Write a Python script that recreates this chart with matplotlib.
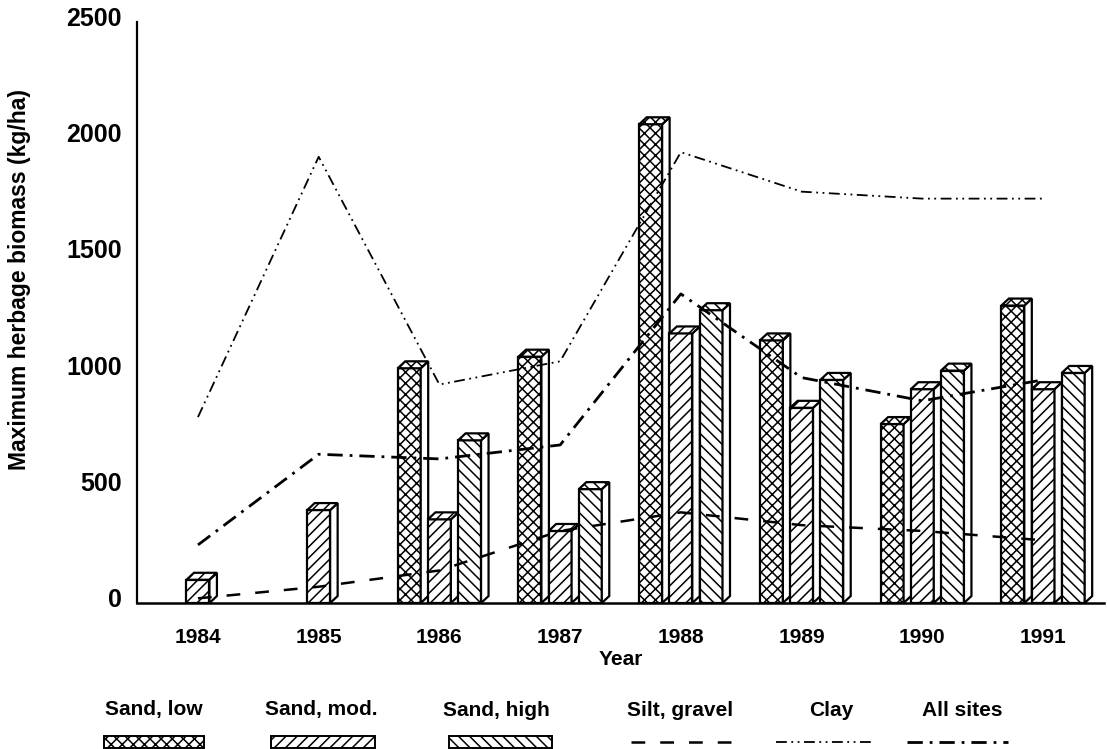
import matplotlib
matplotlib.use("Agg")
import matplotlib.pyplot as plt
import matplotlib.transforms as mtransforms
from matplotlib.patches import Polygon, Rectangle
from matplotlib.lines import Line2D
import numpy as np

# ---- data (kg/ha) ----
years = [1984, 1985, 1986, 1987, 1988, 1989, 1990, 1991]
sand_low = [np.nan, np.nan, 1010, 1060, 2060, 1130, 770, 1280]
sand_mod = [100, 400, 360, 310, 1160, 840, 920, 920]
sand_high = [np.nan, np.nan, 700, 490, 1260, 960, 1000, 990]
silt_gravel = [20, 70, 140, 310, 390, 335, 310, 270]
clay = [800, 1920, 940, 1040, 1940, 1770, 1740, 1740]
all_sites = [250, 640, 620, 680, 1330, 970, 870, 960]

bar_series = [("Sand, low", sand_low, "xxx", -0.25),
              ("Sand, mod.", sand_mod, "///", 0.0),
              ("Sand, high", sand_high, "\\\\\\", 0.25)]

FONT = "Liberation Sans"
plt.rcParams["font.family"] = [FONT, "DejaVu Sans"]
plt.rcParams["font.weight"] = "bold"
plt.rcParams["hatch.linewidth"] = 1.1

W, H = 1107, 749
fig = plt.figure(figsize=(W / 100, H / 100), dpi=100)
fig.patch.set_facecolor("white")


def fx(x):
    return x / W


def fy(y):
    return 1 - y / H


ax = fig.add_axes([fx(137), fy(603), fx(1104) - fx(137), fy(22) - fy(603)])
ax.set_xlim(1983.495, 1991.505)
ax.set_ylim(0, 2500)

# pseudo-3D bar geometry (data units)
bw = 0.19     # front face width
ddx = 0.062   # depth offset, x
ddy = 30      # depth offset, y

z = 2
for i, yr in enumerate(years):
    for name, vals, hatch, off in bar_series:
        v = vals[i]
        if np.isnan(v):
            continue
        xc = yr + off
        x0, x1 = xc - bw / 2, xc + bw / 2
        ax.bar(xc, v, width=bw, facecolor="white", edgecolor="black",
               hatch=hatch, linewidth=1.6, zorder=z)
        side = Polygon([(x1, 0), (x1 + ddx, ddy), (x1 + ddx, v + ddy), (x1, v)],
                       closed=True, facecolor="white", edgecolor="black",
                       linewidth=1.6, zorder=z)
        top = Polygon([(x0, v), (x1, v), (x1 + ddx, v + ddy), (x0 + ddx, v + ddy)],
                      closed=True, facecolor="white", edgecolor="black",
                      hatch=hatch, linewidth=1.6, zorder=z)
        ax.add_patch(side)
        ax.add_patch(top)
        z += 0.01

# line series
silt_style = dict(color="black", lw=1.8, linestyle=(0, (5.5, 6)))
clay_style = dict(color="black", lw=1.3, linestyle=(0, (6, 2.5, 1, 2.5, 1, 2.5)))
all_style = dict(color="black", lw=2.0, linestyle=(0, (5.5, 2.5, 1, 2.5)))
ax.plot(years, silt_gravel, zorder=10, **silt_style)
ax.plot(years, clay, zorder=10, **clay_style)
ax.plot(years, all_sites, zorder=10, **all_style)

# axes styling
for s in ("top", "right"):
    ax.spines[s].set_visible(False)
ax.spines["left"].set_linewidth(1.6)
ax.spines["bottom"].set_linewidth(1.8)
ax.set_xticks(years)
ax.set_xticklabels([str(y) for y in years], fontsize=15, fontweight="bold")
ax.set_yticks([0, 500, 1000, 1500, 2000, 2500])
ax.set_yticklabels(["0", "500", "1000", "1500", "2000", "2500"],
                   fontsize=18, fontweight="bold")
ax.tick_params(axis="x", length=0, pad=18)
ax.tick_params(axis="y", length=0, pad=11)
shift = mtransforms.ScaledTranslation(0, 4 / 72, fig.dpi_scale_trans)
for lab in ax.get_yticklabels():
    lab.set_transform(lab.get_transform() + shift)

ax.set_xlabel("Year", fontsize=15, fontweight="bold")
ax.xaxis.set_label_coords(0.5, (603 - 650) / 581, transform=ax.transAxes)
ax.set_ylabel("Maximum herbage biomass (kg/ha)", fontsize=16.5, fontweight="bold")
ax.yaxis.set_label_coords((31 - 137) / 967, (603 - 280) / 581)

# legend row below the chart
legend_text_y = fy(710)
box_specs = [("Sand, low", 104, 204, 154, "xxx"),
             ("Sand, mod.", 271, 375, 321, "///"),
             ("Sand, high", 449, 552, 496, "\\\\\\")]
for name, bx0, bx1, tx, hatch in box_specs:
    fig.text(fx(tx), legend_text_y, name, ha="center", va="center",
             fontsize=15, fontweight="bold")
    fig.add_artist(Rectangle((fx(bx0), fy(748)), fx(bx1) - fx(bx0), fy(736) - fy(748),
                             transform=fig.transFigure, facecolor="white",
                             edgecolor="black", hatch=hatch, linewidth=1.4))

line_specs = [("Silt, gravel", 631, 731, 680, silt_style),
              ("Clay", 776, 875, 831, clay_style),
              ("All sites", 907, 1008, 962, all_style)]
for name, lx0, lx1, tx, style in line_specs:
    fig.text(fx(tx), legend_text_y, name, ha="center", va="center",
             fontsize=15, fontweight="bold")
    fig.add_artist(Line2D([fx(lx0), fx(lx1)], [fy(742), fy(742)],
                          transform=fig.transFigure, **style))

fig.savefig("out.png", dpi=100, facecolor="white")
